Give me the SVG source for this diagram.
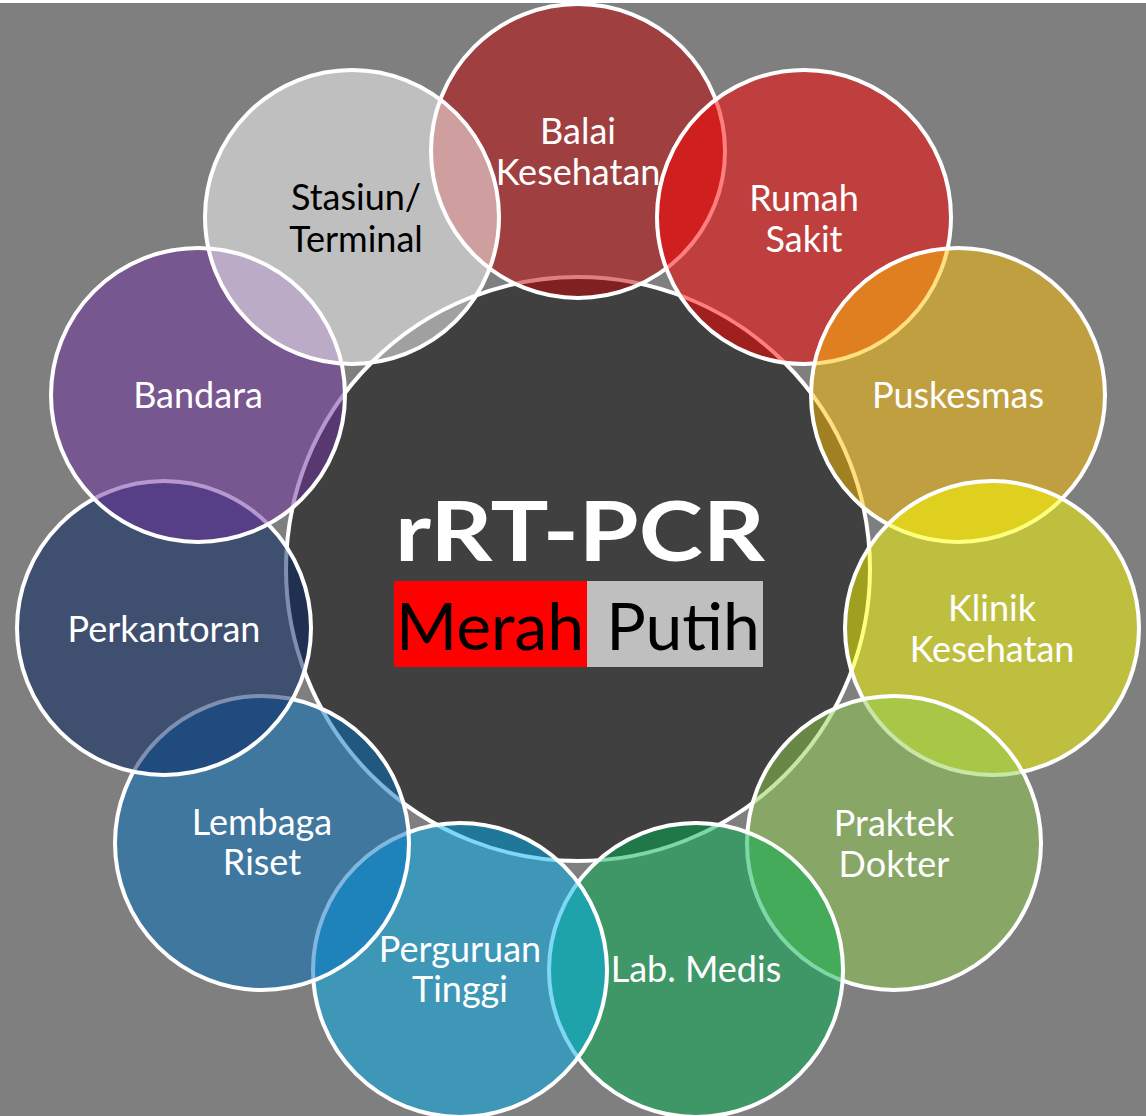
<svg xmlns="http://www.w3.org/2000/svg" width="1146" height="1116" viewBox="0 0 1146 1116">
<style>
.c{stroke:#ffffff;stroke-width:4;fill-opacity:0.5}
.t{font-family:Lato,"Open Sans","DejaVu Sans",sans-serif;font-size:36px;fill:#ffffff;text-anchor:middle}
.dk{fill:#000000}
</style>
<rect x="0" y="0" width="1146" height="1116" fill="#ffffff"/>
<rect x="0" y="3" width="1146" height="1113" fill="#7f7f7f"/>
<g id="center">
<circle cx="578" cy="569" r="292" fill="#404040" stroke="#ffffff" stroke-width="4"/>
<text x="580" y="561" font-family="Lato,'Open Sans','DejaVu Sans',sans-serif" font-weight="bold" font-size="82" fill="#ffffff" text-anchor="middle" textLength="370" lengthAdjust="spacingAndGlyphs">rRT-PCR</text>
<rect x="394" y="581" width="193" height="86" fill="#ff0000"/>
<rect x="587" y="581" width="176" height="86" fill="#bfbfbf"/>
<text x="490" y="650" font-family="Lato,'Open Sans','DejaVu Sans',sans-serif" font-size="66" fill="#000000" text-anchor="middle">Merah</text>
<text x="683" y="650" font-family="Lato,'Open Sans','DejaVu Sans',sans-serif" font-size="66" fill="#000000" text-anchor="middle">Putih</text>
</g>
<g id="n-balai"><circle class="c" cx="578" cy="151" r="147" fill="#c00000"/><text class="t" x="578" y="144">Balai</text><text class="t" x="578" y="185">Kesehatan</text></g>
<g id="n-rumah"><circle class="c" cx="804" cy="217" r="147" fill="#ff0000"/><text class="t" x="804" y="211">Rumah</text><text class="t" x="804" y="252">Sakit</text></g>
<g id="n-puskesmas"><circle class="c" cx="958" cy="395" r="147" fill="#ffc000"/><text class="t" x="958" y="408">Puskesmas</text></g>
<g id="n-klinik"><circle class="c" cx="992" cy="628" r="147" fill="#ffff00"/><text class="t" x="992" y="621">Klinik</text><text class="t" x="992" y="662">Kesehatan</text></g>
<g id="n-praktek"><circle class="c" cx="894" cy="843" r="147" fill="#92d050"/><text class="t" x="894" y="836">Praktek</text><text class="t" x="894" y="877">Dokter</text></g>
<g id="n-lab"><circle class="c" cx="696" cy="970" r="147" fill="#00b050"/><text class="t" x="696" y="982">Lab. Medis</text></g>
<g id="n-perguruan"><circle class="c" cx="460" cy="970" r="147" fill="#00b0f0"/><text class="t" x="460" y="962">Perguruan</text><text class="t" x="460" y="1002">Tinggi</text></g>
<g id="n-lembaga"><circle class="c" cx="262" cy="843" r="147" fill="#0070c0"/><text class="t" x="262" y="835">Lembaga</text><text class="t" x="262" y="875">Riset</text></g>
<g id="n-perkantoran"><circle class="c" cx="164" cy="628" r="147" fill="#002060"/><text class="t" x="164" y="642">Perkantoran</text></g>
<g id="n-bandara"><circle class="c" cx="198" cy="395" r="147" fill="#7030a0"/><text class="t" x="198" y="408">Bandara</text></g>
<g id="n-stasiun"><circle class="c" cx="352" cy="217" r="147" fill="#ffffff"/><text class="t dk" x="356" y="210">Stasiun/</text><text class="t dk" x="356" y="252">Terminal</text></g>
<g id="connectors"></g>
</svg>
